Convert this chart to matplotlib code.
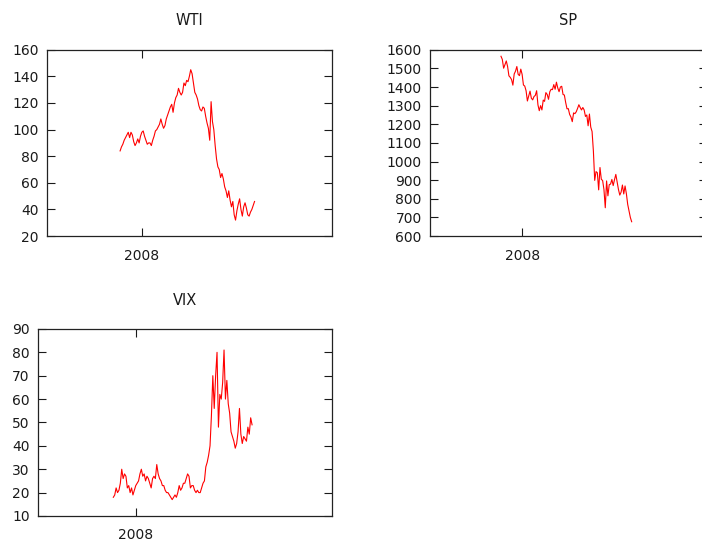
# WTI, S&P 500 and VIX, Oct 2007 - Mar 2009

import numpy as np
import pandas as pd
import matplotlib.pyplot as plt
import datetime as dt

# sampling dates (evenly spaced from first to last day)
start = '2007-10-09'
end = '2009-03-09'

wti = [84, 87, 89, 92, 94, 96, 98, 94, 98, 96,
       91, 88, 90, 93, 90, 95, 98, 99, 95, 92,
       89, 90, 90, 88, 92, 95, 99, 100, 102, 104,
       108, 104, 101, 103, 108, 111, 114, 117, 119, 113,
       120, 124, 126, 131, 128, 126, 128, 135, 133, 137,
       136, 140, 145, 142, 135, 128, 126, 123, 118, 115,
       114, 117, 116, 110, 105, 101, 92, 121, 106, 100,
       88, 78, 72, 70, 64, 67, 63, 57, 54, 49,
       54, 47, 42, 46, 36, 32, 39, 44, 48, 40,
       35, 42, 45, 41, 36, 35, 38, 40, 43, 46]

sp = [1565, 1548, 1501, 1520, 1540, 1510, 1460, 1452, 1440, 1410,
      1470, 1485, 1510, 1468, 1461, 1496, 1468, 1411, 1405, 1380,
      1325, 1352, 1378, 1340, 1331, 1349, 1355, 1380, 1304, 1273,
      1300, 1277, 1330, 1323, 1370, 1360, 1334, 1375, 1388, 1386,
      1413, 1388, 1426, 1395, 1375, 1400, 1404, 1360, 1357, 1317,
      1283, 1284, 1253, 1239, 1214, 1261, 1257, 1267, 1285, 1305,
      1290, 1277, 1290, 1277, 1242, 1250, 1192, 1255, 1185, 1161,
      1056, 899, 946, 940, 848, 968, 905, 898, 850, 752,
      896, 816, 876, 879, 904, 871, 903, 931, 890, 850,
      820, 836, 874, 826, 869, 827, 770, 735, 700, 677]

vix = [18, 19, 22, 20, 21, 24, 30, 26, 28, 27,
       22, 23, 20, 22, 19, 21, 23, 24, 25, 28,
       30, 27, 28, 25, 27, 26, 24, 22, 26, 27,
       26, 32, 28, 26, 25, 23, 23, 21, 20, 20,
       19, 18, 17, 18, 19, 18, 20, 23, 21, 22,
       24, 24, 26, 28, 27, 22, 23, 23, 21, 20,
       21, 20, 20, 22, 24, 25, 31, 33, 36, 40,
       53, 70, 56, 70, 80, 48, 62, 60, 67, 81,
       60, 68, 58, 54, 46, 44, 42, 39, 41, 46,
       56, 45, 41, 44, 43, 42, 48, 45, 52, 49]

dates = pd.date_range(start, end, periods=len(wti))

fig = plt.figure(figsize=(7.02, 5.39), dpi=100)

def panel(rect, y, title, ylim, yticks):
    ax = fig.add_axes(rect)
    ax.plot(dates, y, color='#ff0000', lw=0.8)
    ax.set_xlim(dt.datetime(2007, 1, 1), dt.datetime(2010, 1, 1))
    ax.set_ylim(ylim)
    ax.set_yticks(yticks)
    ax.set_xticks([dt.datetime(2008, 1, 1)])
    ax.set_xticklabels(['2008'])
    ax.tick_params(direction='in', length=6, width=0.8, top=True, right=True,
                   labelsize=10, colors='#1a1a1a', pad=6)
    ax.tick_params(axis='x', pad=9)
    for s in ax.spines.values():
        s.set_linewidth(0.9)
        s.set_color('#222222')
    ax.set_title(title, fontsize=10.5, color='#1a1a1a', pad=17.5)
    return ax

panel([0.067, 0.562, 0.406, 0.3457], wti, 'WTI', (20, 160), np.arange(20, 161, 20))
panel([0.6125, 0.562, 0.3946, 0.3457], sp, 'SP', (600, 1600), np.arange(600, 1601, 100))
panel([0.054, 0.0427, 0.419, 0.347], vix, 'VIX', (10, 90), np.arange(10, 91, 10))

plt.savefig('out.png', dpi=100)
